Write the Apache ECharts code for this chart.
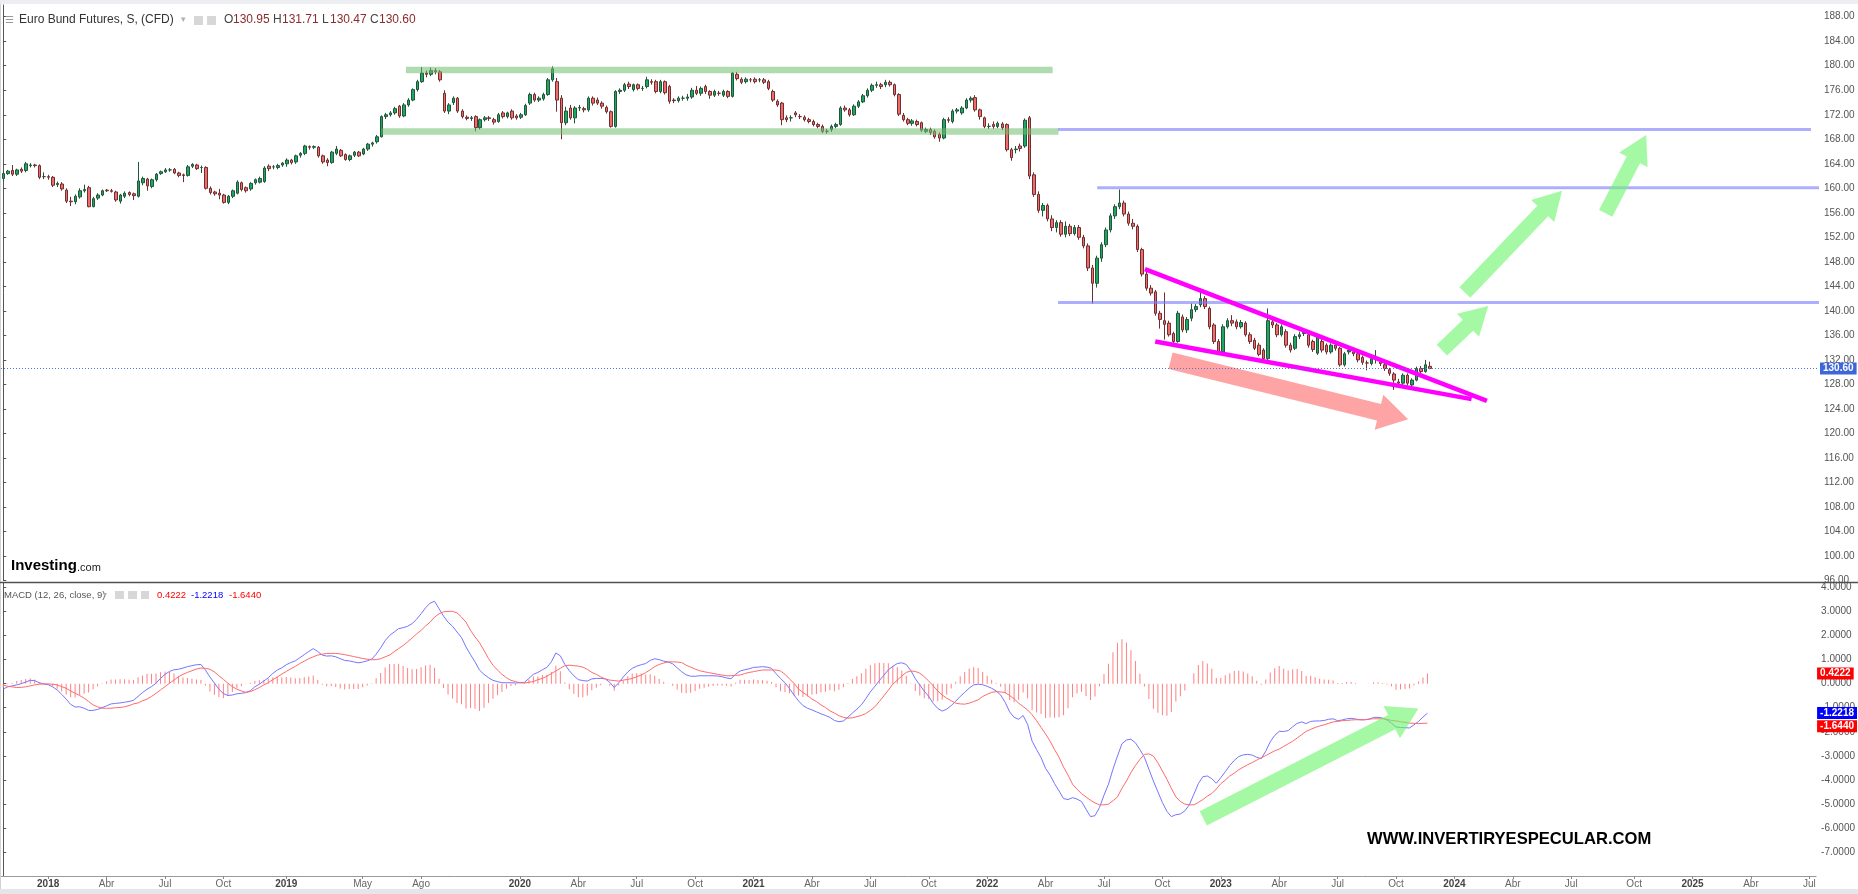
<!DOCTYPE html>
<html><head><meta charset="utf-8">
<script src="https://cdn.jsdelivr.net/npm/echarts@6/dist/echarts.min.js"></script>
<style>html,body{margin:0;padding:0;background:#fff;}#c{width:1858px;height:894px;}</style>
</head><body><div id="c"></div>
<script>
// ---------------- DATA ----------------
const firstWeek = '2017-10-23';   // Monday of first weekly candle
const weekCount = 404;            // weeks shown on the time axis (through Jul 2025)

const opens = [161.6,162.4,162.9,162.3,163.1,162.9,163.7,163.8,163.7,161.9,161.9,161.8,160.6,160.7,159.7,157.9,157.8,158.6,159.6,160.1,157.0,158.4,158.9,159.7,159.6,159.4,157.9,158.7,159.3,159.1,158.7,160.9,161.5,160.3,161.4,162.4,162.7,163.0,163.1,162.5,162.2,162.1,163.6,163.8,163.4,163.4,160.0,159.4,159.2,158.9,157.7,158.7,159.2,160.9,160.1,159.9,160.9,161.0,161.1,163.6,163.5,163.4,163.8,164.0,164.6,164.3,165.4,165.7,166.8,166.7,166.7,165.3,164.6,164.2,165.7,166.2,165.5,164.7,165.4,165.9,165.6,166.4,167.2,167.6,168.4,171.7,172.0,172.3,173.4,171.8,173.6,174.4,176.1,177.4,178.8,178.6,179.2,179.0,175.5,172.6,174.0,174.7,172.6,171.6,171.4,171.7,169.9,171.2,171.5,171.2,170.9,172.3,171.7,172.6,171.8,171.6,172.0,173.9,175.3,174.4,174.6,175.3,177.7,177.4,174.7,170.7,173.1,171.5,173.1,173.0,172.8,174.7,174.4,173.9,173.2,172.5,170.1,175.8,176.0,177.0,176.1,176.9,176.3,176.6,177.4,177.4,175.8,177.4,176.6,174.4,174.3,174.7,174.7,174.9,176.0,175.5,176.6,175.8,175.2,175.5,175.2,175.8,175.0,178.6,177.8,177.4,177.7,177.8,177.7,177.7,177.4,175.8,174.2,173.9,171.5,171.5,172.3,171.7,171.6,171.2,170.9,170.4,170.1,169.3,169.6,170.1,170.4,173.1,172.8,172.0,173.4,174.1,175.1,176.0,176.8,176.9,176.9,177.3,176.9,175.3,171.9,171.2,170.6,170.9,170.7,169.3,169.6,169.3,168.8,168.2,171.2,170.9,172.6,172.3,173.1,174.4,174.8,172.8,171.5,170.1,170.4,170.1,170.5,170.4,166.3,166.3,166.9,166.9,171.5,162.2,159.0,156.4,157.2,155.0,153.6,154.4,152.5,153.8,152.6,153.6,152.0,150.6,147.0,144.5,148.6,150.8,153.2,155.5,157.0,157.6,155.8,154.3,153.8,150.0,146.0,143.7,143.1,139.6,138.4,138.0,136.3,135.0,139.0,136.9,138.8,140.2,141.0,142.0,140.4,137.7,135.0,133.3,137.4,138.4,138.2,137.4,138.0,136.1,135.2,134.4,133.6,132.2,138.2,137.7,136.1,136.6,134.4,133.9,135.8,136.3,136.1,135.0,133.1,135.0,134.4,133.3,134.4,133.9,131.2,133.3,133.3,133.0,132.4,131.5,131.4,132.2,131.7,131.2,130.4,129.7,128.4,128.2,129.5,127.9,128.7,130.6,130.1,130.95];
const closes = [162.4,162.8,162.3,163.0,162.8,164.0,163.8,163.7,161.8,161.9,161.8,160.5,160.8,159.9,157.9,157.8,158.7,159.6,159.8,157.0,158.3,158.9,159.6,159.6,159.5,158.1,158.9,159.2,159.0,158.8,161.2,161.6,160.4,161.4,162.3,162.7,163.0,163.0,162.5,162.1,162.1,163.5,163.9,163.2,163.4,160.0,159.3,159.1,158.9,157.7,158.7,159.6,161.0,159.8,159.6,160.8,161.4,161.6,163.3,163.2,163.5,163.7,164.1,164.6,164.2,165.3,165.7,166.9,166.7,166.8,165.3,164.3,164.2,165.9,166.4,165.3,164.7,165.3,165.9,165.3,166.4,167.2,167.4,168.4,171.7,172.0,172.3,173.0,171.8,173.6,174.4,176.1,177.4,178.8,178.6,179.2,179.0,177.7,172.6,173.6,174.7,172.6,171.7,171.4,171.5,169.9,171.2,171.5,171.4,170.8,172.0,171.7,172.3,171.5,171.5,172.0,173.5,175.3,174.4,174.7,175.3,177.7,179.5,174.4,170.7,172.6,171.5,173.1,173.2,172.8,174.7,173.9,173.9,173.4,172.5,170.1,175.8,176.0,176.9,176.6,176.9,176.3,176.3,177.7,177.3,175.8,177.4,175.6,174.2,174.3,174.7,174.7,174.9,176.0,175.5,176.3,175.8,175.2,175.8,175.5,175.8,175.0,178.8,177.9,177.3,177.8,177.7,177.4,177.7,177.3,176.3,174.4,173.6,171.2,171.2,171.5,172.0,171.7,171.2,170.9,170.4,170.1,169.3,169.3,170.1,170.4,173.1,172.8,172.0,173.4,174.1,175.1,176.0,176.8,176.9,176.6,177.3,176.9,175.3,172.1,171.2,170.6,171.0,170.4,169.5,169.6,169.1,168.4,168.2,171.2,171.1,172.6,172.8,173.1,174.4,174.7,172.8,171.7,170.1,170.1,170.1,170.6,169.9,166.3,165.0,166.4,166.5,171.1,162.0,159.0,156.4,157.2,155.0,153.6,154.4,152.5,153.8,152.6,153.6,152.0,150.6,147.0,144.5,148.6,150.8,153.2,155.5,157.0,157.6,155.8,154.3,153.8,150.0,146.0,143.7,142.9,139.6,138.6,137.8,136.1,135.0,139.6,136.9,138.6,140.2,140.7,142.0,140.7,137.4,135.0,133.3,137.4,138.4,138.0,137.4,138.1,136.1,135.0,133.9,132.9,132.2,138.4,137.7,136.1,137.4,134.4,133.6,135.8,136.1,136.5,134.4,133.7,135.8,133.6,133.3,134.4,133.9,131.2,133.0,133.6,133.0,132.0,131.6,131.5,132.2,132.2,131.4,130.6,129.8,128.7,128.2,129.5,128.2,128.7,130.6,130.1,131.2,130.60];
const lows = [161.2,162.2,162.0,162.0,162.5,162.6,163.4,163.4,161.5,161.5,161.4,160.2,160.2,159.6,157.6,157.1,157.4,158.3,159.3,156.9,156.9,158.1,158.7,159.4,159.3,157.8,157.5,158.4,158.7,158.1,158.5,160.5,159.6,160.0,161.1,162.2,162.5,162.7,162.3,161.8,161.0,161.9,163.3,163.0,162.5,159.8,159.0,158.8,158.2,157.5,157.4,158.4,159.0,159.5,159.3,159.6,160.6,160.8,160.9,162.8,163.1,163.1,163.5,163.5,163.9,164.0,165.0,165.4,166.3,166.4,165.0,164.0,163.6,164.0,165.4,165.1,164.5,164.4,165.1,165.1,165.4,166.1,166.8,167.3,168.3,171.3,171.7,172.0,171.5,171.6,173.3,174.2,175.8,177.2,178.1,178.3,178.6,177.4,172.3,172.1,173.6,172.3,171.4,171.1,171.0,169.3,169.6,170.9,171.0,170.4,170.7,171.4,171.4,171.2,171.2,171.3,171.8,173.6,174.1,174.1,174.3,175.1,177.4,172.5,168.0,170.3,171.2,170.6,172.6,172.4,172.5,173.5,173.6,173.0,172.2,169.9,169.9,175.4,175.7,176.2,175.8,176.0,175.9,176.3,176.9,175.5,175.5,175.3,173.8,173.9,174.0,174.3,174.3,174.6,175.2,175.1,175.4,174.6,174.9,175.1,174.9,174.7,174.8,177.6,177.0,177.1,177.3,177.1,177.3,177.0,176.0,174.1,173.3,170.3,170.8,170.9,171.6,171.3,170.9,170.6,170.1,169.8,169.0,168.9,169.2,169.8,170.2,172.5,171.7,171.8,173.1,173.9,174.8,175.7,176.4,176.2,176.5,176.6,175.0,171.8,170.9,170.3,170.2,170.1,169.2,169.0,168.7,168.1,167.6,168.0,170.7,170.6,172.2,172.0,172.9,174.0,172.5,171.2,169.8,169.7,169.7,169.8,169.5,166.0,164.5,165.7,166.0,166.6,161.5,158.6,156.0,155.4,154.6,153.0,152.8,152.1,152.0,152.2,152.3,151.6,150.2,146.5,141.2,143.8,148.0,150.4,152.8,155.0,156.6,155.4,153.9,153.3,149.6,145.6,143.3,142.5,139.2,137.1,135.3,135.8,134.7,134.8,136.5,136.4,138.3,139.8,140.6,140.3,137.0,134.6,132.9,133.0,137.1,137.5,137.0,137.1,135.8,134.6,133.6,132.6,131.5,132.0,137.2,135.7,135.8,134.0,133.2,133.6,135.4,135.9,134.0,133.3,132.8,133.2,132.9,133.0,133.5,130.9,130.9,132.9,132.6,131.6,131.2,130.3,131.1,131.4,131.0,130.2,129.4,127.1,127.7,127.9,127.8,127.5,128.5,129.7,129.9,130.47];
const highs = [162.7,163.0,163.8,163.2,163.4,164.3,164.1,164.0,163.9,162.6,162.2,162.0,161.1,161.0,160.0,158.6,159.0,160.0,160.6,160.4,158.6,159.2,159.8,159.9,159.9,159.6,159.1,159.5,159.5,159.3,164.3,161.9,161.7,161.6,162.5,162.9,163.3,163.3,163.3,162.7,162.4,163.8,164.1,164.0,163.7,163.6,160.3,159.6,159.9,159.1,158.9,159.8,161.3,161.1,160.3,161.0,161.6,161.9,163.6,163.9,163.8,164.0,164.3,164.9,164.8,165.5,165.9,167.1,167.0,167.0,166.9,165.5,164.9,166.1,166.9,166.4,165.7,165.5,166.1,166.1,166.6,167.4,167.6,168.7,171.9,172.3,172.6,173.3,173.6,173.9,174.7,176.3,177.7,179.8,179.2,179.7,179.6,179.3,176.0,173.9,175.0,174.9,172.9,171.9,171.8,171.9,171.4,171.8,171.8,171.5,172.3,172.6,172.5,172.9,172.1,172.3,173.8,175.6,175.6,175.0,175.6,178.0,179.9,178.0,175.2,173.3,173.6,173.4,173.6,173.3,175.0,175.0,174.8,174.2,173.5,172.7,176.0,176.3,177.2,177.4,177.1,177.1,176.7,178.2,177.8,177.7,177.7,177.6,176.9,174.7,175.0,175.1,175.4,176.4,176.7,176.6,176.9,176.0,176.1,175.9,176.1,176.0,179.0,179.0,178.1,178.1,178.0,178.1,178.0,178.0,177.7,176.1,174.5,174.1,171.9,171.9,172.6,172.1,171.9,171.5,171.2,170.7,170.4,169.7,170.4,170.7,173.4,173.5,173.1,173.7,174.4,175.4,176.3,177.1,177.4,177.2,177.7,177.6,177.1,175.5,172.3,171.5,171.3,171.2,170.9,169.9,169.9,169.6,169.1,171.5,171.6,172.9,173.1,173.4,174.7,175.0,175.2,173.0,171.7,170.6,170.9,170.9,170.8,170.6,166.6,166.9,167.3,171.4,171.8,162.6,159.5,157.6,157.5,155.6,154.8,154.8,154.6,154.2,154.0,154.0,152.4,151.0,147.5,149.0,151.2,153.6,155.9,157.4,159.8,158.0,156.2,155.0,154.1,150.3,146.4,144.2,143.4,140.0,143.0,138.4,136.6,140.0,139.4,139.0,141.2,141.1,143.1,142.4,140.7,138.0,135.4,137.8,138.8,139.3,138.6,138.5,138.3,136.5,135.6,134.8,133.9,140.4,138.6,138.0,137.8,137.0,134.8,136.2,136.6,136.9,136.5,135.3,136.1,135.4,134.7,134.7,134.7,134.1,133.3,133.9,133.6,133.3,132.7,131.9,132.5,133.6,132.0,131.5,130.7,130.0,128.9,129.8,129.8,129.0,130.9,131.0,132.0,131.71];

const macdLine = [-0.22,-0.13,-0.09,-0.05,0.00,0.07,0.14,0.13,0.04,-0.01,-0.04,-0.13,-0.26,-0.44,-0.64,-0.86,-0.97,-0.96,-1.02,-1.11,-1.11,-1.07,-1.00,-0.92,-0.84,-0.82,-0.80,-0.77,-0.74,-0.69,-0.53,-0.37,-0.23,-0.12,0.02,0.22,0.39,0.51,0.58,0.60,0.65,0.71,0.75,0.79,0.80,0.57,0.28,0.03,-0.23,-0.41,-0.49,-0.47,-0.42,-0.40,-0.37,-0.29,-0.13,-0.02,0.11,0.25,0.43,0.57,0.66,0.79,0.88,0.95,1.08,1.21,1.34,1.46,1.34,1.19,1.15,1.16,1.12,1.04,0.97,0.95,0.91,0.87,0.90,0.95,1.02,1.23,1.49,1.79,2.01,2.15,2.29,2.33,2.39,2.50,2.68,2.91,3.16,3.35,3.43,3.12,2.81,2.56,2.39,2.15,1.92,1.53,1.21,0.91,0.57,0.39,0.25,0.14,0.09,0.04,0.04,0.04,0.03,0.04,0.06,0.22,0.39,0.47,0.58,0.68,0.91,1.28,1.16,0.80,0.54,0.33,0.17,0.13,0.11,0.20,0.22,0.22,0.20,0.06,-0.16,0.04,0.28,0.49,0.64,0.73,0.79,0.84,0.97,1.04,1.00,0.94,0.90,0.83,0.66,0.50,0.37,0.31,0.31,0.33,0.33,0.33,0.33,0.32,0.29,0.24,0.21,0.39,0.53,0.58,0.62,0.68,0.69,0.71,0.69,0.64,0.42,0.22,0.04,-0.20,-0.47,-0.71,-0.91,-1.02,-1.09,-1.17,-1.25,-1.32,-1.40,-1.53,-1.58,-1.55,-1.40,-1.22,-1.06,-0.88,-0.62,-0.34,-0.11,0.13,0.35,0.58,0.72,0.84,0.87,0.80,0.55,0.21,-0.05,-0.31,-0.53,-0.82,-1.03,-1.14,-1.06,-0.91,-0.73,-0.53,-0.36,-0.18,-0.05,-0.02,-0.04,-0.11,-0.19,-0.30,-0.47,-0.77,-1.17,-1.40,-1.48,-1.32,-1.69,-2.39,-2.74,-3.08,-3.52,-3.80,-4.16,-4.46,-4.78,-4.82,-4.74,-4.80,-4.90,-5.22,-5.53,-5.49,-5.15,-4.64,-4.18,-3.56,-3.01,-2.50,-2.34,-2.31,-2.46,-2.74,-3.06,-3.56,-4.05,-4.50,-4.94,-5.31,-5.53,-5.45,-5.42,-5.29,-5.04,-4.60,-4.16,-3.87,-3.84,-3.95,-4.14,-3.91,-3.66,-3.40,-3.19,-3.03,-2.96,-2.94,-2.97,-3.06,-3.12,-2.81,-2.42,-2.15,-1.98,-1.99,-1.95,-1.79,-1.65,-1.59,-1.66,-1.57,-1.55,-1.55,-1.53,-1.48,-1.46,-1.54,-1.51,-1.46,-1.44,-1.47,-1.50,-1.50,-1.48,-1.40,-1.40,-1.43,-1.51,-1.64,-1.80,-1.82,-1.83,-1.84,-1.71,-1.57,-1.39,-1.2218];
const signalLine = [-0.05,-0.11,-0.13,-0.16,-0.15,-0.13,-0.09,-0.05,-0.02,-0.01,-0.01,-0.02,-0.05,-0.12,-0.19,-0.30,-0.40,-0.49,-0.60,-0.74,-0.88,-0.96,-1.02,-1.02,-1.02,-1.00,-0.99,-0.96,-0.91,-0.84,-0.80,-0.71,-0.64,-0.53,-0.40,-0.26,-0.12,0.02,0.15,0.29,0.39,0.47,0.54,0.61,0.65,0.64,0.60,0.49,0.33,0.18,0.02,-0.12,-0.23,-0.30,-0.36,-0.33,-0.25,-0.16,-0.05,0.04,0.17,0.28,0.40,0.51,0.62,0.72,0.84,0.94,1.04,1.12,1.19,1.23,1.26,1.26,1.26,1.24,1.21,1.17,1.13,1.09,1.05,1.02,1.00,1.00,1.04,1.12,1.19,1.33,1.46,1.59,1.74,1.90,2.07,2.22,2.40,2.56,2.77,2.91,2.99,3.01,3.01,2.95,2.77,2.56,2.22,1.95,1.71,1.39,1.05,0.77,0.57,0.39,0.25,0.14,0.09,0.04,0.03,0.06,0.09,0.17,0.22,0.31,0.42,0.53,0.64,0.75,0.77,0.75,0.73,0.69,0.60,0.47,0.39,0.28,0.20,0.15,0.13,0.11,0.15,0.18,0.22,0.29,0.36,0.46,0.58,0.71,0.80,0.86,0.91,0.91,0.90,0.88,0.77,0.69,0.61,0.54,0.50,0.46,0.43,0.39,0.36,0.33,0.33,0.35,0.36,0.42,0.47,0.50,0.54,0.57,0.57,0.57,0.57,0.53,0.39,0.20,0.02,-0.22,-0.36,-0.49,-0.64,-0.74,-0.88,-0.99,-1.13,-1.22,-1.33,-1.40,-1.43,-1.42,-1.37,-1.32,-1.24,-1.11,-0.96,-0.74,-0.51,-0.27,-0.02,0.15,0.32,0.47,0.53,0.51,0.44,0.29,0.11,-0.09,-0.30,-0.47,-0.60,-0.71,-0.81,-0.84,-0.85,-0.81,-0.74,-0.67,-0.53,-0.44,-0.36,-0.33,-0.34,-0.37,-0.49,-0.63,-0.81,-0.95,-1.09,-1.29,-1.54,-1.82,-2.09,-2.39,-2.74,-3.06,-3.47,-3.80,-4.18,-4.39,-4.57,-4.71,-4.85,-4.96,-5.04,-5.04,-5.01,-4.87,-4.71,-4.35,-4.05,-3.70,-3.40,-3.15,-2.94,-2.92,-3.01,-3.29,-3.63,-3.98,-4.35,-4.71,-4.90,-5.01,-5.04,-5.04,-4.94,-4.82,-4.68,-4.57,-4.38,-4.16,-4.01,-3.84,-3.72,-3.58,-3.47,-3.37,-3.28,-3.18,-3.08,-2.99,-2.89,-2.79,-2.72,-2.61,-2.50,-2.39,-2.26,-2.12,-1.98,-1.90,-1.82,-1.76,-1.71,-1.65,-1.59,-1.57,-1.54,-1.53,-1.51,-1.50,-1.50,-1.50,-1.47,-1.46,-1.46,-1.46,-1.48,-1.53,-1.55,-1.58,-1.61,-1.64,-1.65,-1.66,-1.65,-1.644];
const histogram = [-0.17,-0.02,0.04,0.11,0.15,0.20,0.23,0.18,0.06,0.00,-0.03,-0.11,-0.21,-0.32,-0.45,-0.56,-0.57,-0.47,-0.42,-0.37,-0.23,-0.11,0.02,0.10,0.18,0.18,0.19,0.19,0.17,0.15,0.27,0.34,0.41,0.41,0.42,0.48,0.51,0.49,0.43,0.31,0.26,0.24,0.21,0.18,0.15,-0.07,-0.32,-0.46,-0.56,-0.59,-0.51,-0.35,-0.19,-0.10,-0.01,0.04,0.12,0.14,0.16,0.21,0.26,0.29,0.26,0.28,0.26,0.23,0.24,0.27,0.30,0.34,0.15,-0.04,-0.11,-0.10,-0.14,-0.20,-0.24,-0.22,-0.22,-0.22,-0.15,-0.07,0.02,0.23,0.45,0.67,0.82,0.82,0.83,0.74,0.65,0.60,0.61,0.69,0.76,0.79,0.66,0.21,-0.18,-0.45,-0.62,-0.80,-0.85,-1.03,-1.01,-1.04,-1.14,-1.00,-0.80,-0.63,-0.48,-0.35,-0.21,-0.10,-0.06,0.00,0.03,0.16,0.30,0.30,0.36,0.37,0.49,0.75,0.52,0.05,-0.23,-0.42,-0.56,-0.56,-0.49,-0.27,-0.17,-0.06,0.00,-0.09,-0.29,-0.07,0.13,0.31,0.42,0.44,0.43,0.38,0.39,0.33,0.20,0.08,-0.01,-0.08,-0.24,-0.38,-0.40,-0.38,-0.30,-0.21,-0.17,-0.13,-0.10,-0.07,-0.07,-0.09,-0.12,0.04,0.17,0.16,0.15,0.18,0.15,0.14,0.12,0.07,-0.15,-0.31,-0.35,-0.40,-0.49,-0.49,-0.55,-0.53,-0.45,-0.43,-0.37,-0.33,-0.27,-0.31,-0.25,-0.15,0.03,0.20,0.31,0.44,0.62,0.77,0.85,0.87,0.86,0.85,0.74,0.69,0.55,0.33,0.02,-0.30,-0.49,-0.60,-0.64,-0.73,-0.73,-0.67,-0.46,-0.20,0.08,0.31,0.49,0.63,0.69,0.65,0.49,0.33,0.17,0.03,-0.13,-0.40,-0.68,-0.77,-0.67,-0.37,-0.60,-1.10,-1.20,-1.26,-1.43,-1.41,-1.42,-1.40,-1.31,-1.02,-0.56,-0.41,-0.33,-0.51,-0.68,-0.53,-0.11,0.40,0.83,1.31,1.70,1.85,1.71,1.39,0.94,0.41,-0.12,-0.64,-1.04,-1.21,-1.31,-1.33,-1.18,-0.74,-0.52,-0.28,0.00,0.44,0.78,0.95,0.84,0.62,0.24,0.25,0.35,0.44,0.53,0.55,0.51,0.43,0.31,0.12,-0.04,0.18,0.47,0.64,0.74,0.62,0.55,0.60,0.61,0.53,0.32,0.33,0.27,0.21,0.18,0.17,0.13,0.03,0.03,0.07,0.07,0.03,0.00,0.00,-0.01,0.06,0.06,0.03,-0.03,-0.11,-0.25,-0.24,-0.22,-0.20,-0.06,0.09,0.26,0.4222];

// x-axis tick labels: [week start, text]
const tickLabels = [['2018-01-01','2018'],['2018-04-02','Abr'],['2018-07-02','Jul'],['2018-10-01','Oct'],['2019-01-07','2019'],['2019-05-06','May'],['2019-08-05','Ago'],['2020-01-06','2020'],['2020-04-06','Abr'],['2020-07-06','Jul'],['2020-10-05','Oct'],['2021-01-04','2021'],['2021-04-05','Abr'],['2021-07-05','Jul'],['2021-10-04','Oct'],['2022-01-03','2022'],['2022-04-04','Abr'],['2022-07-04','Jul'],['2022-10-03','Oct'],['2023-01-02','2023'],['2023-04-03','Abr'],['2023-07-03','Jul'],['2023-10-02','Oct'],['2024-01-01','2024'],['2024-04-01','Abr'],['2024-07-01','Jul'],['2024-10-07','Oct'],['2025-01-06','2025'],['2025-04-07','Abr'],['2025-07-07','Jul']];

// chart annotations in data coordinates (week index, price)
const rangeBands = [[89.5, 233.2, 178.76, 179.84], [84.1, 234.5, 168.75, 169.80]];   // [fromWeek, toWeek, low, high]
const levelLines = [[234.4, 401.7, 169.6], [243.1, 403.5, 160.1], [234.4, 403.5, 141.35]]; // [fromWeek, toWeek, price]
const wedgeLines = [[253.7, 146.8, 329.7, 125.3], [256.0, 135.0, 326.3, 125.6]];       // [w1, p1, w2, p2]
const priceArrows = [[259.4, 131.85, 312.2, 122.3, 0], [319.7, 133.6, 330.0, 140.8, 1], [324.8, 143.0, 346.4, 159.6, 1], [356.1, 155.9, 365.1, 168.7, 1]]; // [tailW, tailP, tipW, tipP, kind]
const macdArrows = [[267.1, -5.6, 315.0, -1.03, 1]];
const lastPrice = 130.60;
const lastHist = 0.4222, lastMacd = -1.2218, lastSignal = -1.6440;

// ---------------- BUILD ----------------
const categories = [];
(function () {
  const t0 = Date.UTC(2017, 9, 23);
  for (let k = 0; k < weekCount; k++) categories.push(new Date(t0 + k * 7 * 86400000).toISOString().slice(0, 10));
})();
const labelMap = {};
tickLabels.forEach(t => { labelMap[t[0]] = t[1]; });
const tickIdx = new Set(categories.map((c, k) => (labelMap[c] ? k : -1)).filter(k => k >= 0));
const candleData = opens.map((o, k) => [o, closes[k], lows[k], highs[k]]);

const arrowStyle = [
  { shaft: 17, head: 36, len: 30, fill: 'rgba(255,90,90,0.55)' },
  { shaft: 15, head: 32, len: 28, fill: 'rgba(110,245,110,0.62)' }
];
function arrowPoly(a, b, st) {
  const dx = b[0] - a[0], dy = b[1] - a[1], L = Math.hypot(dx, dy);
  const ux = dx / L, uy = dy / L, nx = -uy, ny = ux;
  const bx = b[0] - ux * st.len, by = b[1] - uy * st.len;
  const s = st.shaft / 2, h = st.head / 2;
  return [[a[0] + nx * s, a[1] + ny * s], [bx + nx * s, by + ny * s], [bx + nx * h, by + ny * h], [b[0], b[1]],
          [bx - nx * h, by - ny * h], [bx - nx * s, by - ny * s], [a[0] - nx * s, a[1] - ny * s]];
}
const N = weekCount;
const FONT = 'Arial, "Liberation Sans", sans-serif';
const boxLabel = (text, bg, offY) => ({ show: true, position: 'end', distance: 1, offset: [0, offY || 0], formatter: text,
  color: '#fff', backgroundColor: bg, fontSize: 10, fontWeight: 'bold', padding: [1, 3, 1, 3], opacity: 1 });
const hiddenLine = { color: 'rgba(0,0,0,0)', width: 0 };

const chart = echarts.init(document.getElementById('c'), null, { renderer: 'canvas' });
const option = {
  animation: false,
  backgroundColor: '#ffffff',
  textStyle: { fontFamily: FONT },
  grid: [
    { left: 1, right: 39, top: 5, height: 575.5 },
    { left: 1, right: 39, top: 583, height: 293 }
  ],
  xAxis: [
    { type: 'category', gridIndex: 0, data: categories, show: false },
    { type: 'value', gridIndex: 0, min: -0.5, max: N - 0.5, show: false },
    { type: 'category', gridIndex: 1, data: categories,
      axisLine: { onZero: false, lineStyle: { color: '#9a9a9a', width: 1 } },
      axisTick: { show: true, interval: (i) => tickIdx.has(i), length: 3, alignWithLabel: true, lineStyle: { color: '#888' } },
      axisLabel: { interval: (i) => tickIdx.has(i), margin: 3, fontSize: 10, color: '#666',
        formatter: (v) => { const t = labelMap[v] || ''; return /^\d{4}$/.test(t) ? '{y|' + t + '}' : t; },
        rich: { y: { fontSize: 10, fontWeight: 'bold', color: '#444' } } },
      splitLine: { show: false } },
    { type: 'value', gridIndex: 1, min: -0.5, max: N - 0.5, show: false }
  ],
  yAxis: [
    { type: 'value', gridIndex: 0, position: 'right', min: 96, max: 189.91, interval: 4,
      axisLine: { show: true, lineStyle: { color: '#555' } },
      axisTick: { show: true, length: 3, lineStyle: { color: '#555' } },
      axisLabel: { showMaxLabel: false, margin: 5, fontSize: 10, color: '#555', formatter: (v) => v.toFixed(2) },
      splitLine: { show: false } },
    { type: 'value', gridIndex: 1, position: 'right', min: -8, max: 4.19, interval: 1,
      axisLine: { show: true, lineStyle: { color: '#555' } },
      axisTick: { show: true, length: 3, lineStyle: { color: '#555' } },
      axisLabel: { showMaxLabel: false, showMinLabel: false, margin: 5, fontSize: 10, color: '#555',
        formatter: (v) => (v < -7.5 || v > 4.05) ? '' : v.toFixed(4) },
      splitLine: { show: false } }
  ],
  series: [
    { type: 'candlestick', name: 'Euro Bund Futures', xAxisIndex: 0, yAxisIndex: 0, data: candleData, barWidth: 3, z: 2,
      itemStyle: { color: '#1aa863', color0: '#f26b6b', borderColor: '#24543a', borderColor0: '#6d2f2f', borderWidth: 1 },
      markLine: { silent: true, symbol: 'none', z: 5, data: [{ yAxis: lastPrice }],
        lineStyle: { type: [1, 2], color: '#4f74dc', width: 1 },
        label: boxLabel(lastPrice.toFixed(2), '#3f66d9') } },
    { type: 'custom', name: 'bands', xAxisIndex: 1, yAxisIndex: 0, z: 3, data: rangeBands,
      renderItem: (params, api) => {
        const p1 = api.coord([api.value(0), api.value(3)]), p2 = api.coord([api.value(1), api.value(2)]);
        return { type: 'rect', shape: { x: p1[0], y: p1[1], width: p2[0] - p1[0], height: p2[1] - p1[1] },
                 style: { fill: 'rgba(112,188,112,0.55)' } };
      } },
    { type: 'custom', name: 'levels', xAxisIndex: 1, yAxisIndex: 0, z: 3, data: levelLines,
      renderItem: (params, api) => {
        const p1 = api.coord([api.value(0), api.value(2)]), p2 = api.coord([api.value(1), api.value(2)]);
        return { type: 'line', shape: { x1: p1[0], y1: p1[1], x2: p2[0], y2: p2[1] },
                 style: { stroke: 'rgba(120,120,255,0.6)', lineWidth: 3 } };
      } },
    { type: 'custom', name: 'wedge', xAxisIndex: 1, yAxisIndex: 0, z: 4, data: wedgeLines,
      renderItem: (params, api) => {
        const p1 = api.coord([api.value(0), api.value(1)]), p2 = api.coord([api.value(2), api.value(3)]);
        return { type: 'line', shape: { x1: p1[0], y1: p1[1], x2: p2[0], y2: p2[1] },
                 style: { stroke: '#ff00ff', lineWidth: 4.5 } };
      } },
    { type: 'custom', name: 'arrows', xAxisIndex: 1, yAxisIndex: 0, z: 4, data: priceArrows,
      renderItem: (params, api) => {
        const st = arrowStyle[api.value(4)];
        const pts = arrowPoly(api.coord([api.value(0), api.value(1)]), api.coord([api.value(2), api.value(3)]), st);
        return { type: 'polygon', shape: { points: pts }, style: { fill: st.fill } };
      } },
    { type: 'bar', name: 'Histogram', xAxisIndex: 2, yAxisIndex: 1, data: histogram, barWidth: 1, z: 2,
      itemStyle: { color: '#ff8080' },
      markLine: { silent: true, symbol: 'none', z: 6, data: [{ yAxis: lastHist }], lineStyle: hiddenLine,
        label: boxLabel(lastHist.toFixed(4), '#ff0000') } },
    { type: 'line', name: 'MACD', xAxisIndex: 2, yAxisIndex: 1, data: macdLine, showSymbol: false, z: 3,
      lineStyle: { color: '#7575ff', width: 1 },
      markLine: { silent: true, symbol: 'none', z: 6, data: [{ yAxis: lastMacd }], lineStyle: hiddenLine,
        label: boxLabel(lastMacd.toFixed(4), '#0000ff') } },
    { type: 'line', name: 'Signal', xAxisIndex: 2, yAxisIndex: 1, data: signalLine, showSymbol: false, z: 3,
      lineStyle: { color: '#ff6a6a', width: 1 },
      markLine: { silent: true, symbol: 'none', z: 6, data: [{ yAxis: lastSignal }], lineStyle: hiddenLine,
        label: boxLabel(lastSignal.toFixed(4), '#ff0000', 3) } },
    { type: 'custom', name: 'macdArrow', xAxisIndex: 3, yAxisIndex: 1, z: 4, data: macdArrows,
      renderItem: (params, api) => {
        const st = arrowStyle[api.value(4)];
        const pts = arrowPoly(api.coord([api.value(0), api.value(1)]), api.coord([api.value(2), api.value(3)]), { shaft: 16, head: 36, len: 30, fill: st.fill });
        return { type: 'polygon', shape: { points: pts }, style: { fill: st.fill } };
      } }
  ],
  graphic: [
    { type: 'rect', shape: { x: 0, y: 0, width: 1858, height: 4 }, style: { fill: '#eceef1' }, z: 10 },
    { type: 'rect', shape: { x: 0, y: 889, width: 1858, height: 5 }, style: { fill: '#e5e6ea' }, z: 10 },
    { type: 'line', shape: { x1: 0.5, y1: 4, x2: 0.5, y2: 889 }, style: { stroke: '#cfd3d8', lineWidth: 1 }, z: 10 },
    { type: 'line', shape: { x1: 0, y1: 582.5, x2: 1858, y2: 582.5 }, style: { stroke: '#505050', lineWidth: 1.5 }, z: 10 },
    // header
    { type: 'text', x: 5, y: 20, style: { text: '\u2630', font: '10px ' + FONT, fill: '#999', textVerticalAlign: 'middle', verticalAlign: 'middle' }, z: 10 },
    { type: 'text', x: 19, y: 20, style: { text: 'Euro Bund Futures, S, (CFD)', font: '12px ' + FONT, fill: '#333', textVerticalAlign: 'middle', verticalAlign: 'middle' }, z: 10 },
    { type: 'text', x: 181, y: 20, style: { text: '\u25BE', font: '9px ' + FONT, fill: '#b0b0b0', textVerticalAlign: 'middle', verticalAlign: 'middle' }, z: 10 },
    { type: 'rect', shape: { x: 194, y: 16, width: 9, height: 9 }, style: { fill: '#d7d7d7' }, z: 10 },
    { type: 'rect', shape: { x: 207, y: 16, width: 9, height: 9 }, style: { fill: '#d7d7d7' }, z: 10 },
    { type: 'text', x: 224, y: 20, style: { text: 'O', font: '12px ' + FONT, fill: '#444', textVerticalAlign: 'middle', verticalAlign: 'middle' }, z: 10 },
    { type: 'text', x: 233, y: 20, style: { text: '130.95', font: '12px ' + FONT, fill: '#8e2a2a', textVerticalAlign: 'middle', verticalAlign: 'middle' }, z: 10 },
    { type: 'text', x: 273, y: 20, style: { text: 'H', font: '12px ' + FONT, fill: '#444', textVerticalAlign: 'middle', verticalAlign: 'middle' }, z: 10 },
    { type: 'text', x: 282, y: 20, style: { text: '131.71', font: '12px ' + FONT, fill: '#8e2a2a', textVerticalAlign: 'middle', verticalAlign: 'middle' }, z: 10 },
    { type: 'text', x: 322, y: 20, style: { text: 'L', font: '12px ' + FONT, fill: '#444', textVerticalAlign: 'middle', verticalAlign: 'middle' }, z: 10 },
    { type: 'text', x: 330, y: 20, style: { text: '130.47', font: '12px ' + FONT, fill: '#8e2a2a', textVerticalAlign: 'middle', verticalAlign: 'middle' }, z: 10 },
    { type: 'text', x: 370, y: 20, style: { text: 'C', font: '12px ' + FONT, fill: '#444', textVerticalAlign: 'middle', verticalAlign: 'middle' }, z: 10 },
    { type: 'text', x: 379, y: 20, style: { text: '130.60', font: '12px ' + FONT, fill: '#8e2a2a', textVerticalAlign: 'middle', verticalAlign: 'middle' }, z: 10 },
    // logo
    { type: 'text', x: 11, y: 566, style: { text: 'Investing', font: 'bold 15px ' + FONT, fill: '#000', textVerticalAlign: 'middle', verticalAlign: 'middle' }, z: 10 },
    { type: 'text', x: 77, y: 568, style: { text: '.com', font: '11px ' + FONT, fill: '#222', textVerticalAlign: 'middle', verticalAlign: 'middle' }, z: 10 },
    // MACD header
    { type: 'text', x: 4, y: 595, style: { text: 'MACD (12, 26, close, 9)', font: '9.5px ' + FONT, fill: '#555', textVerticalAlign: 'middle', verticalAlign: 'middle' }, z: 10 },
    { type: 'text', x: 103, y: 595, style: { text: '\u25BE', font: '8px ' + FONT, fill: '#b0b0b0', textVerticalAlign: 'middle', verticalAlign: 'middle' }, z: 10 },
    { type: 'rect', shape: { x: 115, y: 591, width: 9, height: 8 }, style: { fill: '#d7d7d7' }, z: 10 },
    { type: 'rect', shape: { x: 128, y: 591, width: 9, height: 8 }, style: { fill: '#d7d7d7' }, z: 10 },
    { type: 'rect', shape: { x: 141, y: 591, width: 8, height: 8 }, style: { fill: '#d7d7d7' }, z: 10 },
    { type: 'text', x: 157, y: 595, style: { text: '0.4222', font: '9.5px ' + FONT, fill: '#ff0000', textVerticalAlign: 'middle', verticalAlign: 'middle' }, z: 10 },
    { type: 'text', x: 191, y: 595, style: { text: '-1.2218', font: '9.5px ' + FONT, fill: '#0000ff', textVerticalAlign: 'middle', verticalAlign: 'middle' }, z: 10 },
    { type: 'text', x: 229, y: 595, style: { text: '-1.6440', font: '9.5px ' + FONT, fill: '#ff0000', textVerticalAlign: 'middle', verticalAlign: 'middle' }, z: 10 },
    // watermark
    { type: 'text', x: 1367, y: 839, style: { text: 'WWW.INVERTIRYESPECULAR.COM', font: 'bold 16.6px ' + FONT, fill: '#000', textVerticalAlign: 'middle', verticalAlign: 'middle' }, z: 10 }
  ]
};
chart.setOption(option);
</script>
</body></html>
